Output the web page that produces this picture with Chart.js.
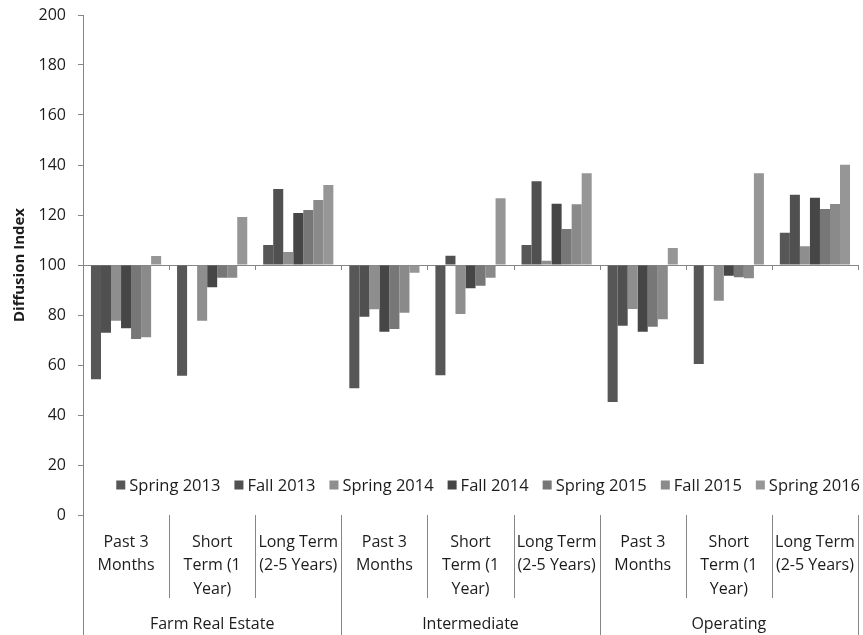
<!DOCTYPE html>
<html>
<head>
<meta charset="utf-8">
<script src="https://cdn.jsdelivr.net/npm/chart.js@4.4.1/dist/chart.umd.min.js"></script>
<style>
  body { margin: 0; background: #fff; }
  #wrap { width: 863px; height: 635px; }
</style>
</head>
<body>
<div id="wrap"><canvas id="myChart" width="863" height="635"></canvas></div>
<script>
// categories (3 per loan type)
var categories = [
    ['Past 3', 'Months'], ['Short', 'Term (1', 'Year)'], ['Long Term', '(2-5 Years)'],
    ['Past 3', 'Months'], ['Short', 'Term (1', 'Year)'], ['Long Term', '(2-5 Years)'],
    ['Past 3', 'Months'], ['Short', 'Term (1', 'Year)'], ['Long Term', '(2-5 Years)']
];
var groups = ['Farm Real Estate', 'Intermediate', 'Operating'];
var seriesNames = ['Spring 2013', 'Fall 2013', 'Spring 2014', 'Fall 2014', 'Spring 2015', 'Fall 2015', 'Spring 2016'];
var seriesColors = ['#575757', '#505050', '#8e8e8e', '#464646', '#777777', '#8a8a8a', '#969696'];

// diffusion index values
var spring2013 = [54.3, 55.7, 108, 50.7, 55.9, 108, 45.2, 60.4, 112.9];
var fall2013 = [72.9, 100, 130.4, 79.3, 103.7, 133.5, 75.7, 100, 128.1];
var spring2014 = [77.7, 77.7, 105.2, 82.3, 80.4, 101.7, 82.4, 85.7, 107.5];
var fall2014 = [74.7, 91.1, 120.8, 73.3, 90.7, 124.5, 73.3, 95.7, 126.9];
var spring2015 = [70.4, 94.9, 122, 74.4, 91.7, 114.4, 75.3, 95.1, 122.4];
var fall2015 = [71.1, 94.9, 126, 80.9, 94.9, 124.3, 78.3, 94.7, 124.4];
var spring2016 = [103.6, 119.2, 132, 96.9, 126.7, 136.7, 106.8, 136.7, 140.1];

var yTicks = [0, 20, 40, 60, 80, 100, 120, 140, 160, 180, 200];

var series = [spring2013, fall2013, spring2014, fall2014, spring2015, fall2015, spring2016];
var axisGray = '#868686';
var textColor = '#1c1c1c';
var fontFamily = "'Open Sans', sans-serif";

// lines between categories, group labels and the legend inside the plot
var extras = {
    id: 'extras',
    afterDraw: function (chart) {
        var ctx = chart.ctx;
        var area = chart.chartArea;
        var x = chart.scales.x;
        var y = chart.scales.y;
        var y100 = y.getPixelForValue(100);
        var step = x.getPixelForValue(1) - x.getPixelForValue(0);

        ctx.save();
        ctx.strokeStyle = axisGray;
        ctx.lineWidth = 1;
        for (var i = 0; i <= categories.length; i++) {
            var px = Math.round(x.getPixelForValue(i) - step / 2) + 0.5;
            ctx.beginPath();
            ctx.moveTo(px, y100);
            ctx.lineTo(px, y100 + 5);
            var bottom = (i % 3 === 0) ? chart.height : area.bottom + 83;
            ctx.moveTo(px, area.bottom);
            ctx.lineTo(px, bottom);
            ctx.stroke();
        }

        // group names
        ctx.fillStyle = textColor;
        ctx.font = '16px ' + fontFamily;
        ctx.textAlign = 'center';
        ctx.textBaseline = 'middle';
        groups.forEach(function (g, k) {
            var cx = x.getPixelForValue(k * 3 + 1);
            ctx.fillText(g, cx, area.bottom + 109);
        });

        // legend
        ctx.font = '16.5px ' + fontFamily;
        var items = chart.data.datasets;
        var widths = items.map(function (d) { return ctx.measureText(d.label).width; });
        var gap = 14;
        var total = 0;
        widths.forEach(function (w) { total += 9 + 4 + w; });
        total += gap * (items.length - 1);
        var lx = area.right + 2 - total;
        var ly = y.getPixelForValue(12);
        ctx.textAlign = 'left';
        items.forEach(function (d, k) {
            ctx.fillStyle = d.backgroundColor;
            ctx.fillRect(lx, ly - 4.5, 9, 9);
            ctx.fillStyle = textColor;
            ctx.fillText(d.label, lx + 13, ly + 1);
            lx += 13 + widths[k] + gap;
        });
        ctx.restore();
    }
};

var ctx = document.getElementById('myChart').getContext('2d');
var chart = new Chart(ctx, {
    type: 'bar',
    data: {
        labels: categories,
        datasets: seriesNames.map(function (name, i) {
            return {
                label: name,
                data: series[i],
                base: 100,
                backgroundColor: seriesColors[i],
                borderWidth: 0,
                barPercentage: 1.0,
                categoryPercentage: 0.815
            };
        })
    },
    options: {
        responsive: false,
        animation: false,
        layout: { padding: { top: 15, left: 6, right: 5, bottom: 0 } },
        plugins: {
            legend: { display: false },
            tooltip: { enabled: false }
        },
        scales: {
            x: {
                grid: { display: false },
                border: { display: false },
                ticks: {
                    color: textColor,
                    font: { family: fontFamily, size: 16, lineHeight: 1.45 },
                    padding: 8,
                    maxRotation: 0,
                    autoSkip: false
                },
                afterFit: function (scale) {
                    scale.height = 120;
                    scale.paddingTop = 0;
                    scale.paddingBottom = 0;
                    scale.paddingLeft = 0;
                    scale.paddingRight = 0;
                }
            },
            y: {
                min: 0,
                max: 200,
                afterBuildTicks: function (scale) {
                    scale.ticks = yTicks.map(function (v) { return { value: v }; });
                },
                grid: {
                    color: function (c) { return c.tick && c.tick.value === 100 ? axisGray : 'rgba(0,0,0,0)'; },
                    tickColor: axisGray,
                    tickLength: 5
                },
                border: { display: true, color: axisGray },
                ticks: {
                    color: textColor,
                    font: { family: fontFamily, size: 16 },
                    padding: 12
                },
                title: {
                    display: true,
                    text: 'Diffusion Index',
                    color: textColor,
                    font: { family: fontFamily, size: 15, weight: 'bold' },
                    padding: { top: 5, bottom: 0 }
                },
                afterFit: function (scale) {
                    scale.width = 77;
                    scale.paddingTop = 0;
                    scale.paddingBottom = 0;
                }
            }
        }
    },
    plugins: [extras]
});
</script>
</body>
</html>
